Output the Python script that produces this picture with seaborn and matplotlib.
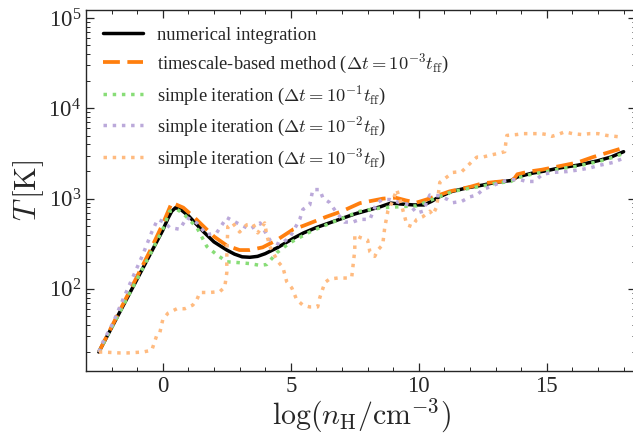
import numpy as np
import pandas as pd
import matplotlib
matplotlib.use("Agg")
import matplotlib.pyplot as plt
import seaborn as sns
from matplotlib.ticker import MultipleLocator, LogLocator, NullFormatter

# log(n_H / cm^-3) and log10(T / K)
x_num = [-2.5, -2.0, -1.5, -1.0, -0.5, 0.0, 0.2, 0.35, 0.5, 0.7, 1.0, 1.3, 1.6, 2.0,
         2.5, 2.8, 3.1, 3.4, 3.7, 4.0, 4.5, 5.1, 5.5, 6.0, 6.5, 7.0, 7.5, 8.0, 8.5,
         8.9, 9.3, 9.8, 10.2, 10.5, 10.8, 11.3, 11.9, 12.5, 13.0, 13.6, 13.85, 14.4,
         15.0, 15.5, 16.2, 17.0, 17.5, 18.0]
logT_num = [1.30, 1.57, 1.84, 2.11, 2.38, 2.65, 2.78, 2.86, 2.90, 2.88, 2.81, 2.72,
            2.63, 2.52, 2.43, 2.385, 2.355, 2.35, 2.36, 2.39, 2.46, 2.56, 2.62, 2.68,
            2.73, 2.78, 2.83, 2.87, 2.91, 2.95, 2.94, 2.93, 2.93, 2.97, 3.02, 3.08,
            3.12, 3.15, 3.18, 3.20, 3.24, 3.28, 3.31, 3.34, 3.37, 3.42, 3.46, 3.52]

x_ts = [-2.5, -2.0, -1.5, -1.0, -0.5, 0.0, 0.35, 0.8, 1.2, 1.6, 2.0, 2.5, 3.0, 3.4,
        3.9, 4.45, 5.1, 5.5, 6.4, 7.0, 7.7, 8.6, 9.1, 9.5, 9.9, 10.3, 10.8, 11.2,
        12.0, 12.5, 13.2, 13.7, 13.85, 14.3, 14.8, 15.5, 16.2, 16.8, 17.5, 17.85, 18.0]
logT_ts = [1.30, 1.58, 1.86, 2.14, 2.42, 2.72, 2.955, 2.90, 2.80, 2.69, 2.58, 2.48,
           2.43, 2.43, 2.46, 2.54, 2.66, 2.70, 2.80, 2.86, 2.95, 3.00, 3.01, 2.98,
           2.955, 2.99, 3.04, 3.08, 3.13, 3.17, 3.19, 3.21, 3.27, 3.30, 3.32, 3.36,
           3.40, 3.46, 3.52, 3.55, 3.54]

x_si1 = [-2.5, -2.0, -1.5, -1.0, -0.5, 0.0, 0.27, 0.55, 0.78, 1.33, 1.72, 2.1, 2.5,
         3.0, 3.4, 3.8, 4.06, 4.45, 4.96, 5.74, 6.64, 7.7, 8.59, 9.26, 9.92, 10.7,
         11.33, 11.9, 12.5, 13.0, 13.6, 13.85, 14.4, 15.0, 15.5, 16.2, 17.0, 17.5, 18.0]
logT_si1 = [1.30, 1.57, 1.84, 2.11, 2.38, 2.66, 2.86, 2.88, 2.84, 2.68, 2.47, 2.38,
            2.30, 2.29, 2.28, 2.26, 2.27, 2.40, 2.51, 2.63, 2.74, 2.86, 2.90, 2.91,
            2.92, 3.01, 3.08, 3.11, 3.14, 3.17, 3.19, 3.23, 3.27, 3.30, 3.33, 3.36,
            3.41, 3.45, 3.50]

x_si2 = [-2.5, -2.34, -1.95, -1.56, -1.17, -0.78, -0.43, -0.2, 0.05, 0.27, 0.66, 0.94,
         1.33, 1.72, 2.1, 2.5, 2.9, 3.4, 3.8, 4.18, 4.57, 4.96, 5.35, 5.47, 5.74, 5.86,
         6.13, 6.25, 6.52, 6.8, 7.1, 7.42, 7.7, 8.09, 8.36, 8.6, 8.87, 9.26, 9.65, 9.92,
         10.16, 10.43, 10.8, 11.13, 11.33, 11.68, 12.0, 12.27, 12.5, 12.77, 13.28, 13.6,
         13.95, 14.2, 14.5, 14.84, 15.23, 15.8, 16.3, 16.68, 17.07, 17.58, 17.93]
logT_si2 = [1.30, 1.41, 1.62, 1.88, 2.13, 2.38, 2.63, 2.77, 2.74, 2.68, 2.66, 2.79,
            2.73, 2.60, 2.62, 2.79, 2.73, 2.66, 2.73, 2.54, 2.49, 2.57, 2.77, 2.88,
            2.93, 3.10, 3.10, 3.01, 2.955, 2.84, 2.74, 2.74, 2.77, 2.77, 2.955, 2.99,
            2.99, 2.955, 2.93, 2.84, 2.86, 3.04, 3.03, 2.99, 2.955, 2.97, 3.02, 3.04,
            3.10, 3.13, 3.19, 3.21, 3.21, 3.19, 3.19, 3.27, 3.29, 3.30, 3.32, 3.34,
            3.37, 3.40, 3.44]

x_si3 = [-2.5, -2.34, -1.68, -1.37, -0.78, -0.43, -0.23, -0.12, 0.0, 0.2, 0.55, 0.86,
         1.17, 1.33, 1.45, 1.84, 2.23, 2.42, 2.5, 2.5, 2.54, 2.73, 3.0, 3.28, 3.52,
         3.71, 3.98, 4.06, 4.18, 4.5, 4.69, 4.84, 5.04, 5.23, 5.47, 5.74, 6.05, 6.13,
         6.33, 6.52, 6.84, 7.19, 7.38, 7.42, 7.5, 7.5, 7.7, 8.0, 8.09, 8.28, 8.4, 8.59,
         8.67, 8.79, 8.95, 9.14, 9.26, 9.45, 9.53, 9.73, 9.92, 10.16, 10.43, 10.55, 10.7,
         10.82, 11.1, 11.33, 11.68, 11.9, 12.07, 12.27, 12.5, 12.77, 13.09, 13.36, 13.4,
         13.44, 13.83, 14.06, 14.45, 14.77, 15.0, 15.2, 15.43, 15.7, 16.0, 16.37, 16.68,
         17.0, 17.34, 17.66, 17.97]
logT_si3 = [1.30, 1.30, 1.29, 1.29, 1.30, 1.32, 1.49, 1.51, 1.66, 1.73, 1.78, 1.78,
            1.82, 1.88, 1.96, 1.96, 1.97, 2.02, 2.18, 2.36, 2.69, 2.73, 2.63, 2.71,
            2.72, 2.62, 2.73, 2.60, 2.47, 2.30, 2.24, 2.08, 2.01, 1.88, 1.82, 1.80,
            1.80, 1.90, 2.07, 2.11, 2.12, 2.12, 2.13, 2.23, 2.43, 2.60, 2.57, 2.54,
            2.41, 2.36, 2.43, 2.49, 2.68, 2.86, 2.955, 3.10, 2.99, 2.80, 2.71, 2.69,
            2.77, 2.80, 2.86, 2.82, 2.91, 3.18, 3.24, 3.29, 3.30, 3.36, 3.41, 3.46,
            3.46, 3.48, 3.50, 3.52, 3.62, 3.70, 3.71, 3.72, 3.72, 3.72, 3.71, 3.69,
            3.71, 3.74, 3.72, 3.71, 3.72, 3.72, 3.70, 3.69, 3.68]

labels = [
    "numerical integration",
    r"timescale-based method ($\Delta t = 10^{-3}t_{\rm ff}$)",
    r"simple iteration ($\Delta t = 10^{-1}t_{\rm ff}$)",
    r"simple iteration ($\Delta t = 10^{-2}t_{\rm ff}$)",
    r"simple iteration ($\Delta t = 10^{-3}t_{\rm ff}$)",
]

sns.set_style("ticks")
plt.rcParams["font.family"] = ["Liberation Serif", "DejaVu Serif"]
plt.rcParams["mathtext.fontset"] = "cm"

fig = plt.figure(figsize=(6.33, 4.36), dpi=100)
ax = fig.add_axes([86 / 633, 65 / 436, 550.4 / 633, 361 / 436])

series = [
    (x_num, logT_num, dict(color="black", lw=2.5, ls="-")),
    (x_ts, logT_ts, dict(color="#ff7f0e", lw=2.7, dashes=(4.5, 2.0))),
    (x_si1, logT_si1, dict(color="#88dd77", lw=2.5, ls=":")),
    (x_si2, logT_si2, dict(color="#bba9da", lw=2.5, ls=":")),
    (x_si3, logT_si3, dict(color="#ffbb80", lw=2.5, ls=":")),
]
for (xs, ls_, style), lab in zip(series, labels):
    df = pd.DataFrame({"x": xs, "T": 10 ** np.array(ls_)})
    sns.lineplot(data=df, x="x", y="T", ax=ax, estimator=None, sort=False,
                 label=lab, **style)

ax.set_yscale("log")
ax.set_xlim(-3, 18.5)
ax.set_ylim(12.3, 1.23e5)
ax.xaxis.set_major_locator(MultipleLocator(5))
ax.xaxis.set_minor_locator(MultipleLocator(1))
ax.yaxis.set_major_locator(LogLocator(base=10, numticks=10))
ax.yaxis.set_minor_locator(LogLocator(base=10, subs=np.arange(2, 10), numticks=10))
ax.yaxis.set_minor_formatter(NullFormatter())
ax.tick_params(which="both", direction="in", top=True, right=True, labelsize=16.5)
ax.tick_params(which="major", length=6, width=0.9)
ax.tick_params(which="minor", length=3, width=0.7)
for s in ax.spines.values():
    s.set_linewidth(1.0)

ax.set_xlabel(r"$\log(n_{\rm H}/{\rm cm^{-3}})$", fontsize=21.5, labelpad=0)
ax.set_ylabel(r"$T\,[{\rm K}]$", fontsize=22, labelpad=2)

ax.legend(loc="upper left", frameon=False, fontsize=13.3, handlelength=2.17,
          handletextpad=0.8, labelspacing=0.42, borderaxespad=0.5,
          bbox_to_anchor=(0.0, 1.0))

fig.savefig("out.png", dpi=100)
